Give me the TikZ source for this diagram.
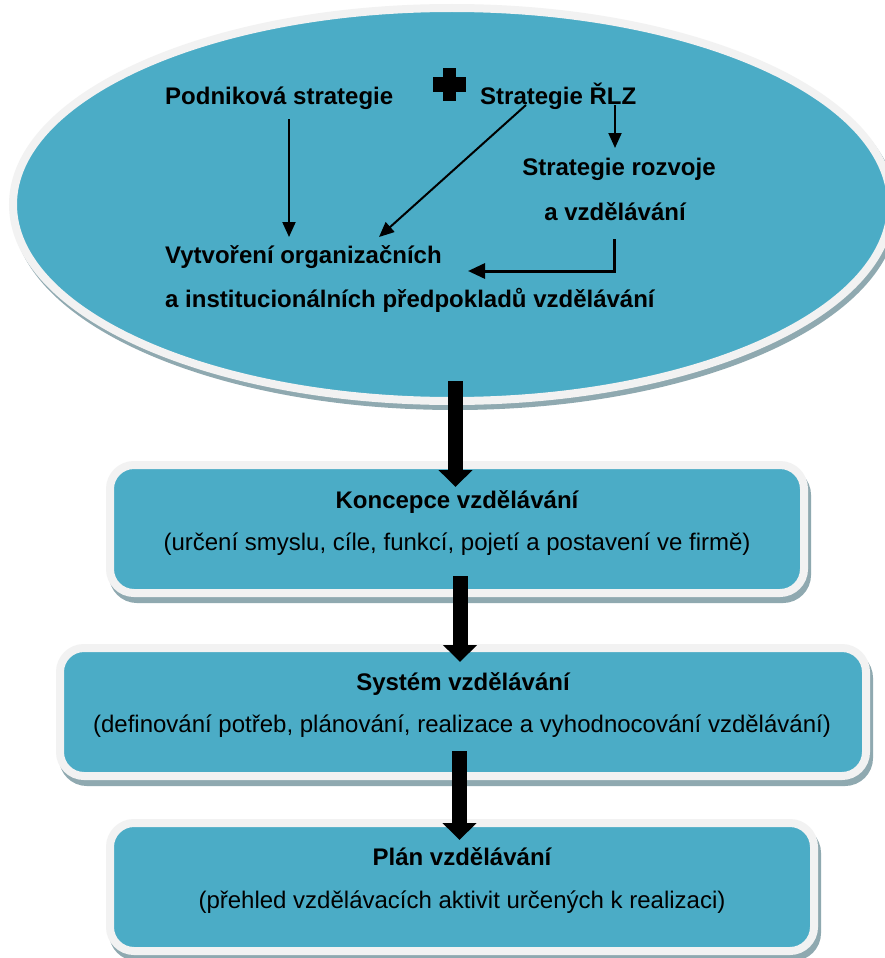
\documentclass[tikz,border=0pt]{standalone}
\usepackage{fontspec}
\setmainfont{Liberation Sans}
\usetikzlibrary{arrows.meta,shapes.geometric}
\definecolor{aqua}{HTML}{4BACC6}
\definecolor{rim}{HTML}{F2F2F2}
\definecolor{shade}{HTML}{8FA9B0}
\begin{document}
\begin{tikzpicture}[x=1pt,y=-1pt,
  panel/.style={rectangle, rounded corners=24pt, fill=aqua, draw=rim, line width=8pt, inner sep=0pt,
    preaction={draw=shade, fill=shade, transform canvas={xshift=3pt,yshift=-6pt}}},
  oval/.style={ellipse, fill=aqua, draw=rim, line width=8pt, inner sep=0pt,
    preaction={draw=shade, fill=shade, transform canvas={xshift=3pt,yshift=-5pt}}},
  btxt/.style={inner sep=0pt, font=\fontsize{24}{28}\selectfont\bfseries},
  rtxt/.style={inner sep=0pt, font=\fontsize{24}{28}\selectfont},
  thinarrow/.style={line width=2pt, -{Triangle[length=15pt,width=13pt]}},
  elbowarrow/.style={line width=3pt, -{Triangle[length=17pt,width=15pt]}},
  bigarrow/.style={line width=15pt, -{Triangle[length=17pt,width=33pt]}}
]
\useasboundingbox (0,0) rectangle (884,958);
\fill[white] (0,0) rectangle (884,958);

% ellipse
\node[oval, minimum width=878pt, minimum height=393pt] (top) at (452,204.5) {};

% plus sign
\fill[black] (443,68) rectangle (456,101);
\fill[black] (433,77) rectangle (466,92);

% ellipse texts
\node[btxt, anchor=base west] (podnik) at (165,104) {Podniková strategie};
\node[btxt, anchor=base west] (rlz) at (480,104) {Strategie ŘLZ};
\node[btxt, anchor=base] (rozv1) at (619,175) {Strategie rozvoje};
\node[btxt, anchor=base] (rozv2) at (615,220) {a vzdělávání};
\node[btxt, anchor=base west] (vytv1) at (165,263) {Vytvoření organizačních};
\node[btxt, anchor=base west] (vytv2) at (165,307) {a institucionálních předpokladů vzdělávání};

% arrow endpoints inside ellipse
\coordinate (p1) at (289,119);
\coordinate (p2) at (289,237);
\coordinate (d1) at (526,105);
\coordinate (d2) at (379,237);
\coordinate (r1) at (615,105);
\coordinate (r2) at (615,148);
\coordinate (e1) at (614,239);
\coordinate (e2) at (614,271);
\coordinate (e3) at (468,271);

\draw[thinarrow] (p1) -- (p2);
\draw[thinarrow] (d1) -- (d2);
\draw[thinarrow] (r1) -- (r2);
\draw[elbowarrow] (e1) -- (e2) -- (e3);

% boxes
\node[panel, minimum width=694pt, minimum height=128pt] (b1) at (457,529) {};
\node[panel, minimum width=806pt, minimum height=128pt] (b2) at (463,712) {};
\node[panel, minimum width=704pt, minimum height=128pt] (b3) at (462,887) {};

\node[btxt, anchor=base] (b1t) at (457,508) {Koncepce vzdělávání};
\node[rtxt, anchor=base] (b1s) at (457,550) {(určení smyslu, cíle, funkcí, pojetí a postavení ve firmě)};
\node[btxt, anchor=base] (b2t) at (463,690) {Systém vzdělávání};
\node[rtxt, anchor=base] (b2s) at (462,732) {(definování potřeb, plánování, realizace a vyhodnocování vzdělávání)};
\node[btxt, anchor=base] (b3t) at (462,865) {Plán vzdělávání};
\node[rtxt, anchor=base] (b3s) at (462,908) {(přehled vzdělávacích aktivit určených k realizaci)};

% big arrows
\coordinate (a1s) at (455.5,381);
\coordinate (a1e) at (455.5,487);
\coordinate (a2s) at (460,576);
\coordinate (a2e) at (460,662);
\coordinate (a3s) at (459.5,751);
\coordinate (a3e) at (459.5,840);
\draw[bigarrow] (a1s) -- (a1e);
\draw[bigarrow] (a2s) -- (a2e);
\draw[bigarrow] (a3s) -- (a3e);
\end{tikzpicture}
\end{document}
